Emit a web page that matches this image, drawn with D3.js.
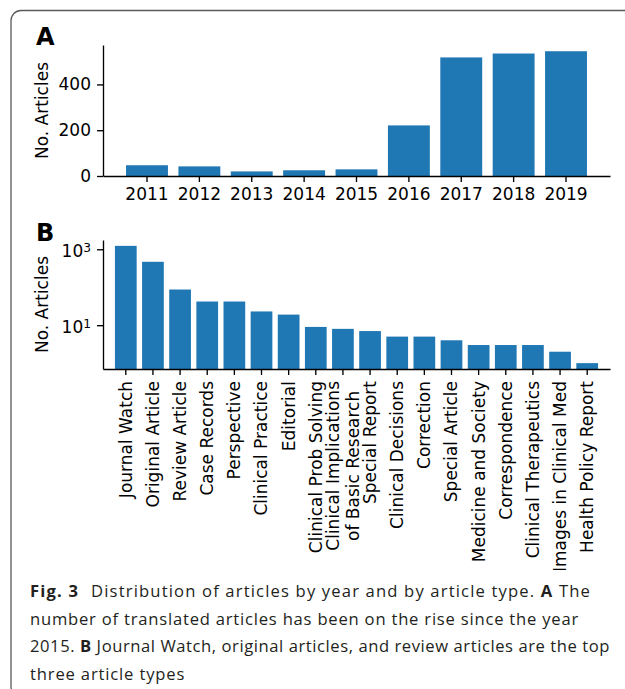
<!DOCTYPE html>
<html>
<head>
<meta charset="utf-8">
<script src="https://cdn.jsdelivr.net/npm/d3@7/dist/d3.min.js"></script>
<style>
  body { margin: 0; background: #fff; }
  svg { display: block; }
</style>
</head>
<body>
<svg id="fig" width="625" height="689"></svg>
<script>
// Panel A: translated articles per year
const years = ["2011", "2012", "2013", "2014", "2015", "2016", "2017", "2018", "2019"];
const yearCounts = [47, 42, 20, 25, 29, 221, 518, 535, 545];
const yearTicks = [0, 200, 400];

// Panel B: articles per type (log scale)
const articleTypes = [
  "Journal Watch", "Original Article", "Review Article", "Case Records", "Perspective",
  "Clinical Practice", "Editorial", "Clinical Prob Solving",
  "Clinical Implications\nof Basic Research", "Special Report", "Clinical Decisions",
  "Correction", "Special Article", "Medicine and Society", "Correspondence",
  "Clinical Therapeutics", "Images in Clinical Med", "Health Policy Report"
];
const typeCounts = [1230, 468, 87, 42, 42, 23, 19, 9, 8, 7, 5, 5, 4, 3, 3, 3, 2, 1];
const typeTicks = [10, 1000];

// Figure caption, line by line; bold runs flagged, a leading number is an extra gap
const captionLines = [
  [["Fig. 3", true], [12, "Distribution of articles by year and by article type. ", false], ["A", true], [" The", false]],
  [["number of translated articles has been on the rise since the year", false]],
  [["2015. ", false], ["B", true], [" Journal Watch, original articles, and review articles are the top", false]],
  [["three article types", false]]
];
const captionWidths = [549, 549, 580, null];

const BAR = "#1f77b4";
const FONT = "'DejaVu Sans', sans-serif";
const FS = 17;             // tick / label font size
const TICK = 6, PAD = 6, LW = 1.35;

const svg = d3.select("#fig");

// rounded frame around the figure
svg.append("rect")
  .attr("x", 11).attr("y", 10.5).attr("width", 700).attr("height", 686)
  .attr("rx", 10).attr("ry", 10)
  .attr("fill", "none").attr("stroke", "#5a5a5a").attr("stroke-width", 1.3);

// the plotted figure ends above the caption; anything past it is cut
svg.append("clipPath").attr("id", "plotClip")
  .append("rect").attr("x", 0).attr("y", 0).attr("width", 625).attr("height", 570);
const plot = svg.append("g").attr("clip-path", "url(#plotClip)");

function styleAxis(g) {
  g.selectAll("path.domain").attr("stroke", "#000").attr("stroke-width", LW);
  g.selectAll(".tick line").attr("stroke", "#000").attr("stroke-width", LW);
  g.selectAll("text").attr("font-family", FONT).attr("font-size", FS).attr("fill", "#000");
}

function panelLetter(letter, y) {
  plot.append("text").attr("x", 36).attr("y", y)
    .attr("font-family", FONT).attr("font-weight", "bold").attr("font-size", 24)
    .text(letter);
}

function yLabel(cy) {
  plot.append("text")
    .attr("transform", `translate(48,${cy}) rotate(-90)`)
    .attr("text-anchor", "middle")
    .attr("font-family", FONT).attr("font-size", FS)
    .text("No. Articles");
}

// ---------- Panel A ----------
const aBox = { left: 103, right: 610, top: 45, bottom: 176 };
const xA = d3.scaleBand().domain(years).range([aBox.left, aBox.right])
  .paddingInner(0.2).paddingOuter(0.44);
const yA = d3.scaleLinear().domain([0, d3.max(yearCounts) * 1.05]).range([aBox.bottom, aBox.top]);

plot.append("g").selectAll("rect").data(years).join("rect")
  .attr("x", d => xA(d))
  .attr("width", xA.bandwidth())
  .attr("y", (d, i) => yA(yearCounts[i]))
  .attr("height", (d, i) => yA(0) - yA(yearCounts[i]))
  .attr("fill", BAR);

plot.append("g").attr("transform", `translate(${aBox.left},0)`)
  .call(d3.axisLeft(yA).tickValues(yearTicks).tickFormat(d3.format("d"))
    .tickSize(TICK).tickPadding(PAD).tickSizeOuter(0))
  .call(styleAxis);

plot.append("g").attr("transform", `translate(0,${aBox.bottom})`)
  .call(d3.axisBottom(xA).tickSize(TICK).tickPadding(PAD).tickSizeOuter(0))
  .call(styleAxis);

panelLetter("A", 45);
yLabel((aBox.top + aBox.bottom) / 2);

// ---------- Panel B ----------
const bBox = { left: 103, right: 610, top: 240, bottom: 369 };
const xB = d3.scaleBand().domain(articleTypes).range([bBox.left, bBox.right])
  .paddingInner(0.2).paddingOuter(0.44);
const lo = Math.log10(d3.min(typeCounts)), hi = Math.log10(d3.max(typeCounts));
const m = (hi - lo) * 0.05;
const yB = d3.scaleLog().domain([Math.pow(10, lo - m), Math.pow(10, hi + m)])
  .range([bBox.bottom, bBox.top]);

plot.append("g").selectAll("rect").data(articleTypes).join("rect")
  .attr("x", d => xB(d))
  .attr("width", xB.bandwidth())
  .attr("y", (d, i) => yB(typeCounts[i]))
  .attr("height", (d, i) => bBox.bottom - yB(typeCounts[i]))
  .attr("fill", BAR);

const yAxisB = plot.append("g").attr("transform", `translate(${bBox.left},0)`)
  .call(d3.axisLeft(yB).tickValues(typeTicks).tickFormat(d => String(d))
    .tickSize(TICK).tickPadding(PAD).tickSizeOuter(0))
  .call(styleAxis);

// power-of-ten labels: "10" with a raised exponent
yAxisB.selectAll(".tick text").each(function (d) {
  const t = d3.select(this).text("");
  t.append("tspan").text("10");
  t.append("tspan").attr("dy", "-0.45em").attr("font-size", FS * 0.72)
    .text(Math.round(Math.log10(d)));
}).attr("dy", "0.45em");

const xAxisB = plot.append("g").attr("transform", `translate(0,${bBox.bottom})`)
  .call(d3.axisBottom(xB).tickSize(TICK).tickPadding(PAD).tickSizeOuter(0))
  .call(styleAxis);

// vertical category labels, hanging from the axis, lines centred on each other
xAxisB.selectAll(".tick text").each(function (d) {
  const lines = d.split("\n");
  const t = d3.select(this).text(null)
    .attr("x", null).attr("y", null).attr("dy", null)
    .attr("transform", `translate(0,${TICK + PAD}) rotate(-90)`)
    .attr("text-anchor", lines.length > 1 ? "middle" : "end");
  const lh = 1.2;
  const spans = lines.map((ln, i) => t.append("tspan")
    .attr("x", 0)
    .attr("dy", i === 0 ? `${0.35 - (lines.length - 1) * lh / 2}em` : `${lh}em`)
    .text(ln));
  if (lines.length > 1) {
    const w = d3.max(spans, s => s.node().getComputedTextLength());
    spans.forEach(s => s.attr("x", -w / 2));
  }
});

panelLetter("B", 241);
yLabel((bBox.top + bBox.bottom) / 2);

// ---------- Caption ----------
const CAP_FONT = "'Open Sans', 'Noto Sans', sans-serif";
const capX = 30, capY0 = 597, capLH = 27.7, capFS = 16.6;
const capTexts = captionLines.map((segs, i) => {
  const t = svg.append("text").attr("x", capX).attr("y", capY0 + i * capLH)
    .attr("font-family", CAP_FONT).attr("font-size", capFS).attr("fill", "#231f20");
  segs.forEach(seg => {
    const gap = typeof seg[0] === "number" ? seg[0] : 0;
    const [s, b] = gap ? seg.slice(1) : seg;
    t.append("tspan")
      .attr("dx", gap || null)
      .attr("font-weight", b ? "bold" : null)
      .text(s);
  });
  return t;
});
// adjust tracking so each full line spans its measured width
const spacings = capTexts.map((t, i) => {
  if (captionWidths[i] == null) return null;
  const natural = t.node().getComputedTextLength();
  const n = captionLines[i].map(s => typeof s[0] === "number" ? s[1] : s[0]).join("").length;
  return (captionWidths[i] - natural) / n;
});
const meanLs = d3.mean(spacings.filter(v => v != null));
capTexts.forEach((t, i) => t.attr("letter-spacing", spacings[i] == null ? meanLs : spacings[i]));
</script>
</body>
</html>
